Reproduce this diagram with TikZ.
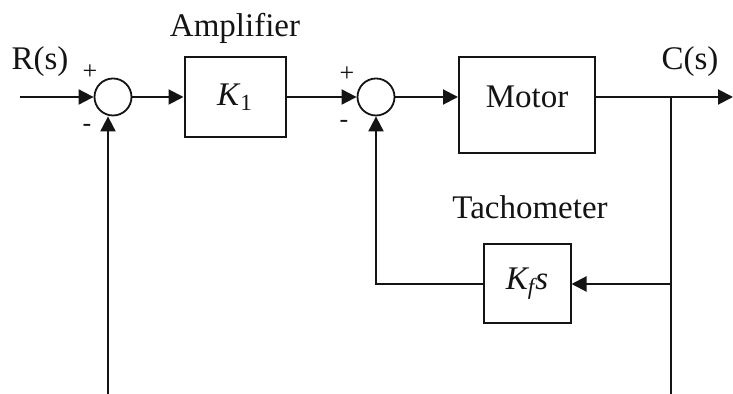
\documentclass[tikz,border=0pt]{standalone}
\usepackage{fontspec}
\setmainfont{Liberation Serif}
\usetikzlibrary{
  arrows.meta,
  positioning,
  calc
}
\definecolor{ink}{HTML}{141414}
\tikzset{
  base/.style={
    text=ink,
    font=\fontsize{16.5}{18}\selectfont,
    align=center,
    inner sep=0pt,
  },
  block/.style={
    base,
    draw=ink,
    line width=1pt,
    minimum width=#1,
    minimum height=40pt,
  },
  block/.default=50pt,
  sumnode/.style={
    circle,
    draw=ink,
    line width=0.9pt,
    minimum size=18.5pt,
    inner sep=0pt,
  },
  signal/.style={
    -{Triangle[length=7.5pt, width=7.5pt]},
    line width=1pt,
    draw=ink,
  },
  wire/.style={
    line width=1pt,
    draw=ink,
  },
  sgn/.style={
    base,
    font=\fontsize{13}{14}\selectfont,
  },
}

\begin{document}
\begin{tikzpicture}[x=0.5pt, y=-0.5pt]
\useasboundingbox (0,0) rectangle (733,394);

% === FORWARD PATH ===

\node[sumnode] (sum1) at (113,97) {};
\node[block=50.5pt] (amp) at (235,97) {\textit{K}\textsubscript{1}};
\node[sumnode] (sum2) at (376,97) {};
\node[block=68pt, minimum height=48pt, text depth=8pt]
  (motor) at (527,105) {Motor};

\coordinate (in) at (20,97);
\coordinate (out) at (733,97);
\coordinate (branch) at (671,97);

\draw[signal] (in) -- (sum1);
\draw[signal] (sum1) -- (amp);
\draw[signal] (amp) -- (sum2);
\draw[signal] (sum2) -- (sum2 -| motor.west);
\draw[signal] (sum2 -| motor.east) -- (out);

% === TACHOMETER LOOP ===

\node[block=43.5pt, minimum height=39.5pt]
  (tacho) at (527,284) {\textit{K\textsubscript{f}s}};

\draw[signal] (branch |- tacho) -- (tacho);
\draw[signal] (tacho.west) -| (sum2.south);

% === OUTER FEEDBACK (cut at bottom) ===

\coordinate (bottom1) at (108,394);
\coordinate (bottom2) at (671,394);

\draw[wire] (branch) -- (bottom2);
\draw[signal] (bottom1) -- (bottom1 |- sum1.south);

% === LABELS ===

\node[base] (rlabel) at (40,62) {R(s)};
\node[base] (clabel) at (690,62) {C(s)};
\node[base, above=6pt of amp] (amplabel) {Amplifier};
\node[base, above=12pt of tacho, xshift=1.5pt] (tacholabel) {Tachometer};

\node[sgn] (plus1) at (90,72) {+};
\node[sgn] (minus1) at (87,128) {-};
\node[sgn] (plus2) at (347,74) {+};
\node[sgn] (minus2) at (344,124) {-};

\end{tikzpicture}
\end{document}
